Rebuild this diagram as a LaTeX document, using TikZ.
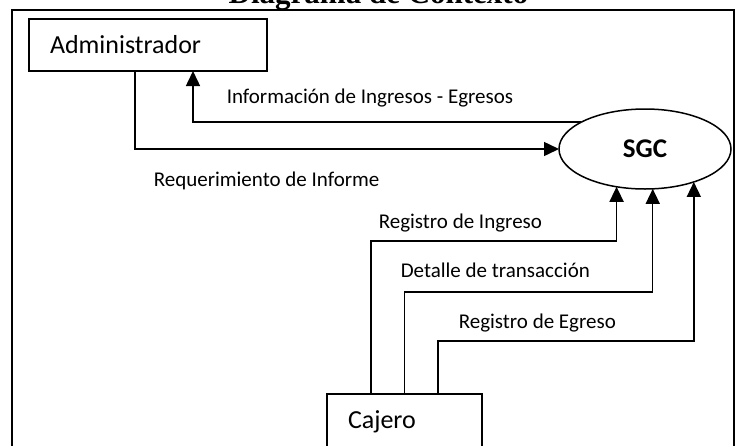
\documentclass[tikz,border=0pt]{standalone}
\usepackage{fontspec}
\setmainfont{Carlito}
\newfontfamily\titlefont{Liberation Serif}
\usetikzlibrary{arrows.meta,shapes.geometric}
\begin{document}
\begin{tikzpicture}[x=1pt,y=-1pt, line width=1.5pt,
  box/.style={draw, rectangle, inner ysep=0pt, outer sep=0pt, align=left, font=\fontsize{26}{30}\selectfont},
  flow/.style={-{Triangle[length=15pt,width=14pt]}},
  lbl/.style={anchor=base west, inner sep=0pt, font=\fontsize{21}{24}\selectfont}]
\useasboundingbox (0,0) rectangle (736,445);
\clip (0,0) rectangle (736,445);
\node[anchor=base, inner sep=0pt, font=\titlefont\bfseries\fontsize{31}{34}\selectfont] (title) at (378.5,3) {Diagrama de Contexto};
\draw (12,10) rectangle (734,470);
\node[box, anchor=north west, minimum height=52pt, text width=196pt, inner xsep=21pt] (admin) at (29,19) {Administrador};
\node[box, anchor=north west, minimum height=56pt, text width=113pt, inner xsep=21pt] (cajero) at (327,394) {Cajero};
\node[draw, ellipse, minimum width=172pt, minimum height=80pt, inner sep=0pt, outer sep=0pt, font=\bfseries\fontsize{27}{30}\selectfont] (sgc) at (645,149) {SGC};
\draw[flow] ([xshift=-13pt]admin.south) |- (sgc.west);
\draw[flow] (sgc.157) -| ([xshift=45pt]admin.south);
\draw[flow] ([xshift=-33.5pt]cajero.north) -- ++(0,-153) -| (sgc.233.5);
\draw[flow] (cajero.north) -- ++(0,-102) -| (sgc.281.4);
\draw[flow] ([xshift=33.5pt]cajero.north) -- ++(0,-53) -| (sgc.326.1);
\node[lbl] (l1) at (226,103) {Información de Ingresos - Egresos};
\node[lbl] (l2) at (153,186) {Requerimiento de Informe};
\node[lbl] (l3) at (378,228) {Registro de Ingreso};
\node[lbl] (l4) at (400,277) {Detalle de transacción};
\node[lbl] (l5) at (458,328) {Registro de Egreso};
\end{tikzpicture}
\end{document}
